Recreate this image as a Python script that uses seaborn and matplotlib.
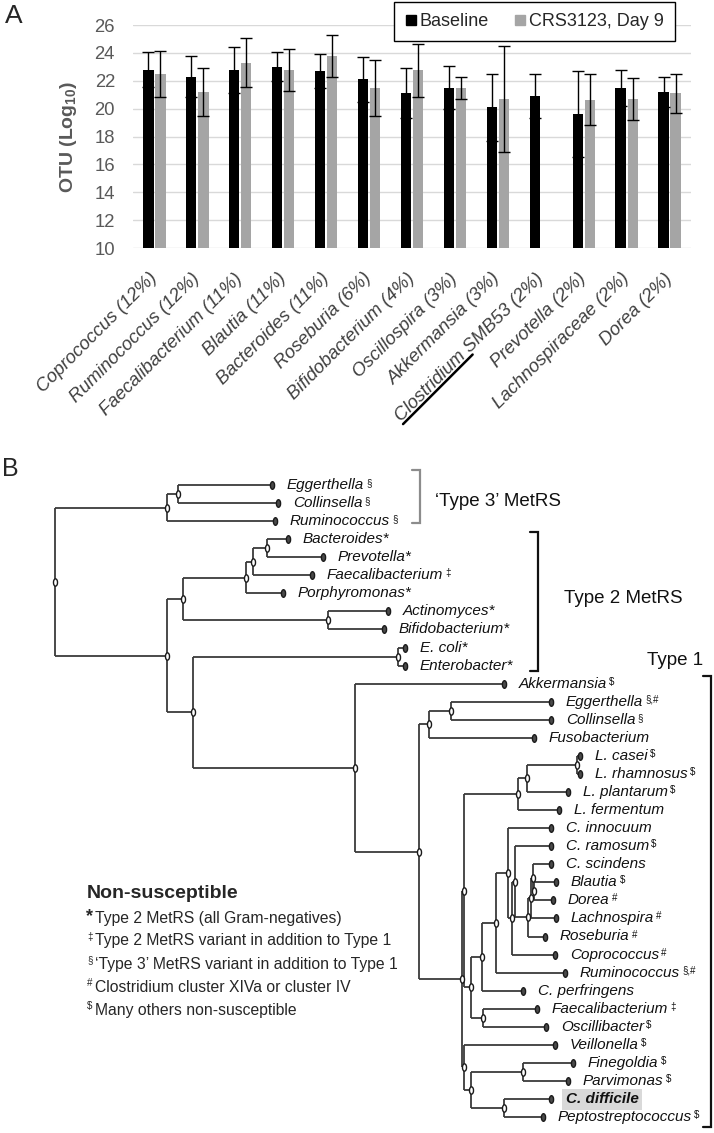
import numpy as np
import pandas as pd
import matplotlib
matplotlib.use("Agg")
import matplotlib.pyplot as plt
import seaborn as sns
from matplotlib import font_manager
from matplotlib.lines import Line2D
from matplotlib.collections import LineCollection
from matplotlib.markers import MarkerStyle
from matplotlib.path import Path
from matplotlib.transforms import Affine2D

W, H = 714, 1133

# ---------------- panel A data ----------------
genera = ["Coprococcus (12%)", "Ruminococcus (12%)", "Faecalibacterium (11%)",
          "Blautia (11%)", "Bacteroides (11%)", "Roseburia (6%)",
          "Bifidobacterium (4%)", "Oscillospira (3%)", "Akkermansia (3%)",
          "Clostridium SMB53 (2%)", "Prevotella (2%)", "Lachnospiraceae (2%)",
          "Dorea (2%)"]
series = ["Baseline", "CRS3123, Day 9"]
baseline = [22.8, 22.3, 22.8, 23.0, 22.7, 22.1, 21.1, 21.5, 20.1, 20.9, 19.6, 21.5, 21.2]
baseline_err = [1.25, 1.45, 1.65, 1.05, 1.2, 1.6, 1.8, 1.55, 2.4, 1.6, 3.1, 1.3, 1.05]
day9 = [22.45, 21.2, 23.3, 22.8, 23.75, 21.5, 22.75, 21.5, 20.7, np.nan, 20.65, 20.7, 21.1]
day9_err = [1.65, 1.75, 1.75, 1.5, 1.5, 2.0, 1.9, 0.8, 3.8, np.nan, 1.85, 1.5, 1.4]
yticks_a = [10, 12, 14, 16, 18, 20, 22, 24, 26]

# ---------------- panel B data ----------------
leaf_names = ["Eggerthella", "Collinsella", "Ruminococcus", "Bacteroides*", "Prevotella*",
              "Faecalibacterium", "Porphyromonas*", "Actinomyces*", "Bifidobacterium*",
              "E. coli*", "Enterobacter*", "Akkermansia", "Eggerthella", "Collinsella",
              "Fusobacterium", "L. casei", "L. rhamnosus", "L. plantarum", "L. fermentum",
              "C. innocuum", "C. ramosum", "C. scindens", "Blautia", "Dorea", "Lachnospira",
              "Roseburia", "Coprococcus", "Ruminococcus", "C. perfringens", "Faecalibacterium",
              "Oscillibacter", "Veillonella", "Finegoldia", "Parvimonas", "C. difficile",
              "Peptostreptococcus"]
leaf_marks = ["§", "§", "§", "", "", "‡", "", "", "", "", "", "$", "§,#", "§", "",
              "$", "$", "$", "", "", "$", "", "$", "#", "#", "#", "#", "§,#", "",
              "‡", "$", "$", "$", "$", "", "$"]
# distance of each tip from the root
tip_depth = [217, 223, 220, 233, 268, 257, 228, 333, 329, 350, 350, 449, 496, 496, 479,
             525, 525, 513, 504, 496, 496, 496, 501, 498, 501, 490, 500, 510, 468, 482,
             491, 500, 518, 513, 496, 488]
# internal nodes: name -> (depth, children); ints are leaves
clades = {
    "root": (0, ["t3", "rest"]),
    "t3": (112, ["t3a", 2]),
    "t3a": (123, [0, 1]),
    "rest": (112, ["t2", "low"]),
    "t2": (128, ["bact", "actino"]),
    "bact": (191, ["bact2", 6]),
    "bact2": (198, ["bact3", 5]),
    "bact3": (212, [3, 4]),
    "actino": (273, [7, 8]),
    "low": (138, ["entero", "t1"]),
    "entero": (343, [9, 10]),
    "t1": (300, [11, "t1b"]),
    "t1b": (364, ["coriob", "firm"]),
    "coriob": (374, ["egg", 14]),
    "egg": (396, [12, 13]),
    "firm": (407, ["firm_a", "firm_b"]),
    "firm_a": (409, ["lacto", "clos"]),
    "lacto": (463, ["lacto2", 18]),
    "lacto2": (472, ["lacto3", 17]),
    "lacto3": (522, [15, 16]),
    "clos": (416, ["clos2", "rum"]),
    "clos2": (427, ["clos3", 28]),
    "clos3": (441, ["clos4", 27]),
    "clos4": (453, [19, "clos5"]),
    "clos5": (457, ["clos6", 26]),
    "clos6": (460, [20, "lachno"]),
    "lachno": (473, ["lachno2", 25]),
    "lachno2": (476, ["lachno3", 24]),
    "lachno3": (478, [21, "lachno4"]),
    "lachno4": (479, [22, 23]),
    "rum": (428, [29, 30]),
    "firm_b": (409, [31, "pepto"]),
    "pepto": (416, ["pepto2", "pepto3"]),
    "pepto2": (468, [32, 33]),
    "pepto3": (449, [34, 35]),
}
key_symbols = ["*", "‡", "§", "#", "$"]
key_texts = ["Type 2 MetRS (all Gram-negatives)",
             "Type 2 MetRS variant in addition to Type 1",
             "‘Type 3’ MetRS variant in addition to Type 1",
             "Clostridium cluster XIVa or cluster IV",
             "Many others non-susceptible"]

# ---------------- style ----------------
sns.set_theme(style="white")
plt.rcParams["font.family"] = ["Liberation Sans", "DejaVu Sans"]
plt.rcParams["mathtext.fontset"] = "custom"
plt.rcParams["mathtext.bf"] = "Liberation Sans:bold"
plt.rcParams["mathtext.rm"] = "Liberation Sans"

installed = {f.name for f in font_manager.fontManager.ttflist}
if "Liberation Sans Narrow" in installed:
    narrow, fs_a, fs_leg = "Liberation Sans Narrow", 15, 14
else:
    narrow, fs_a, fs_leg = "Liberation Sans", 13.3, 13

black, grey = "#000000", "#a5a5a5"
txt_grey = "#595959"

fig = plt.figure(figsize=(W / 100, H / 100), dpi=100)


def fx(x):
    return x / W


def fy(y):
    return 1 - y / H


# ---------------- panel A ----------------
df = pd.DataFrame({
    "genus": genera * 2,
    "series": [series[0]] * len(genera) + [series[1]] * len(genera),
    "otu": baseline + day9,
})

ax = fig.add_axes([fx(133), fy(248), 558 / W, 223 / H])
sns.barplot(data=df, x="genus", y="otu", hue="series", hue_order=series,
            palette=[black, grey], width=0.56, gap=0.15, errorbar=None,
            saturation=1, linewidth=0, legend=False, ax=ax)

errs = {series[0]: baseline_err, series[1]: day9_err}
for cont, name in zip(ax.containers, series):
    for bar in cont:
        h = bar.get_height()
        if np.isnan(h):
            continue
        xc = bar.get_x() + bar.get_width() / 2
        k = int(round(xc))
        ax.errorbar(xc, h, yerr=errs[name][k], fmt="none", ecolor="black",
                    elinewidth=1, capsize=4.5, capthick=1, zorder=4)

ax.set_ylim(10, 26)
ax.set_xlim(-0.5, len(genera) - 0.5)
ax.set_yticks(yticks_a)
ax.set_yticklabels([str(t) for t in yticks_a], family=narrow, fontsize=fs_a, color=txt_grey)
ax.set_xticks(range(len(genera)))
ax.set_xticklabels(genera, rotation=45, ha="right", va="center", rotation_mode="anchor",
                   fontstyle="italic", family=narrow, fontsize=fs_a, color="#404040")
ax.tick_params(axis="x", length=0, pad=20)
ax.tick_params(axis="y", length=0, pad=13)
ax.grid(axis="y", color="#d9d9d9", linewidth=1)
ax.set_axisbelow(True)
for s in ax.spines.values():
    s.set_visible(False)
ax.set_xlabel("")
ax.set_ylabel(r"OTU (Log$_{\mathbf{10}}$)", fontsize=14, fontweight="bold", color=txt_grey)
ax.yaxis.set_label_coords(-0.097, 0.5)

handles = [Line2D([], [], marker="s", ls="none", markersize=7.5, color=c) for c in (black, grey)]
leg = ax.legend(handles, series, loc="upper right", bbox_to_anchor=(fx(675), fy(2)),
                bbox_transform=fig.transFigure, borderaxespad=0,
                ncol=2, frameon=True, fancybox=False, edgecolor="black", framealpha=1,
                borderpad=0.62, handlelength=0.6, handletextpad=0.2, columnspacing=1.4,
                prop=dict(family=narrow, size=fs_leg))
leg.set_zorder(20)
leg.get_frame().set_linewidth(1)
leg.get_frame().set_facecolor("white")
for t in leg.get_texts():
    t.set_color("#262626")

fig.text(fx(5), fy(16), "A", fontsize=19, va="center", ha="left")
fig.text(fx(2), fy(469), "B", fontsize=18, va="center", ha="left")

# ---------------- panel B ----------------
leaf_gap = 18.06
first_leaf = 485
ax2 = fig.add_axes([0, 0, 1, fy(455)])
ax2.set_xlim(-55, W - 55)
ax2.set_ylim((H - first_leaf) / leaf_gap, (455 - first_leaf) / leaf_gap)
ax2.axis("off")

node_y = {}


def layout(node):
    if isinstance(node, int):
        return float(node)
    ys = [layout(c) for c in clades[node][1]]
    node_y[node] = (min(ys) + max(ys)) / 2
    return node_y[node]


layout("root")


def child_pos(c):
    if isinstance(c, int):
        return tip_depth[c], float(c)
    return clades[c][0], node_y[c]


segments = []
for name, (depth, children) in clades.items():
    pos = [child_pos(c) for c in children]
    ys = [p[1] for p in pos]
    segments.append([(depth, min(ys)), (depth, max(ys))])
    for cx, cy in pos:
        segments.append([(depth, cy), (cx, cy)])
ax2.add_collection(LineCollection(segments, colors="#3a3a3a", linewidths=1.3, zorder=1))

ellipse = MarkerStyle(Path.unit_circle().transformed(Affine2D().scale(0.55, 1.0)))
ax2.scatter([clades[n][0] for n in clades], [node_y[n] for n in clades], marker=ellipse,
            s=28, facecolor="white", edgecolor="#1a1a1a", linewidths=1.0, zorder=3)
ax2.scatter(tip_depth, range(len(tip_depth)), marker=ellipse, s=30,
            facecolor="#4a4a4a", edgecolor="#1a1a1a", linewidths=1.0, zorder=3)

for i, (name, mark) in enumerate(zip(leaf_names, leaf_marks)):
    bold = name == "C. difficile"
    t = ax2.text(tip_depth[i] + 15, i, name, fontsize=11, fontstyle="italic",
                 fontweight="bold" if bold else "normal", va="center", ha="left",
                 color="#111111",
                 bbox=dict(facecolor="#d9d9d9", edgecolor="none", pad=2.5) if bold else None)
    if mark:
        ax2.annotate(mark, xy=(1, 1), xycoords=t, xytext=(1.5, 0), textcoords="offset points",
                     va="top", ha="left", fontsize=7, color="#111111", parse_math=False)


# clade brackets
def bracket(x, lo, hi, color, tick=8):
    ax2.plot([x - tick, x, x, x - tick], [lo, lo, hi, hi], color=color, lw=1.6,
             solid_joinstyle="miter")


bracket(365, 0 - 0.83, 2 + 0.1, "#8c8c8c")
bracket(483, 3 - 0.4, 10 + 0.3, "#111111")
bracket(656, 11 - 0.42, 35 + 0.55, "#111111")
ax2.text(380, 0.94, "‘Type 3’ MetRS", fontsize=13.5, va="center", ha="left", color="#111111")
ax2.text(509, 6.26, "Type 2 MetRS", fontsize=13.5, va="center", ha="left", color="#111111")
ax2.text(648, 9.69, "Type 1", fontsize=13.5, va="center", ha="right", color="#111111")

# key
fig.text(fx(87), fy(893), "Non-susceptible", fontsize=14, fontweight="bold", va="center")
for k, (sym, txt) in enumerate(zip(key_symbols, key_texts)):
    yc = 918 + 23 * k
    if sym == "*":
        fig.text(fx(86), fy(yc - 1), sym, fontsize=13, fontweight="bold", va="center")
    else:
        fig.text(fx(87), fy(yc - 4), sym, fontsize=7, va="center", parse_math=False)
    fig.text(fx(95), fy(yc), txt, fontsize=11.3, va="center")

# underline "Clostridium" in the tick label
fig.canvas.draw()
renderer = fig.canvas.get_renderer()
lbl = ax.get_xticklabels()[genera.index("Clostridium SMB53 (2%)")]
prop = lbl.get_fontproperties()
w_all = renderer.get_text_width_height_descent(lbl.get_text(), prop, ismath=False)[0]
w_clos = renderer.get_text_width_height_descent("Clostridium", prop, ismath=False)[0]
_, h_lp, d_lp = renderer.get_text_width_height_descent("lp", prop, ismath=False)
anchor = lbl.get_transform().transform(lbl.get_position())
ang = np.deg2rad(45)
along = np.array([np.cos(ang), np.sin(ang)])
down = np.array([np.sin(ang), -np.cos(ang)])
p0 = anchor - w_all * along + (h_lp / 2 - d_lp + 3) * down
p1 = p0 + (w_clos + 6) * along
pts = fig.transFigure.inverted().transform([p0, p1])
fig.add_artist(Line2D(pts[:, 0], pts[:, 1], transform=fig.transFigure, color="black", lw=1.8))

fig.savefig("out.png", dpi=100)
